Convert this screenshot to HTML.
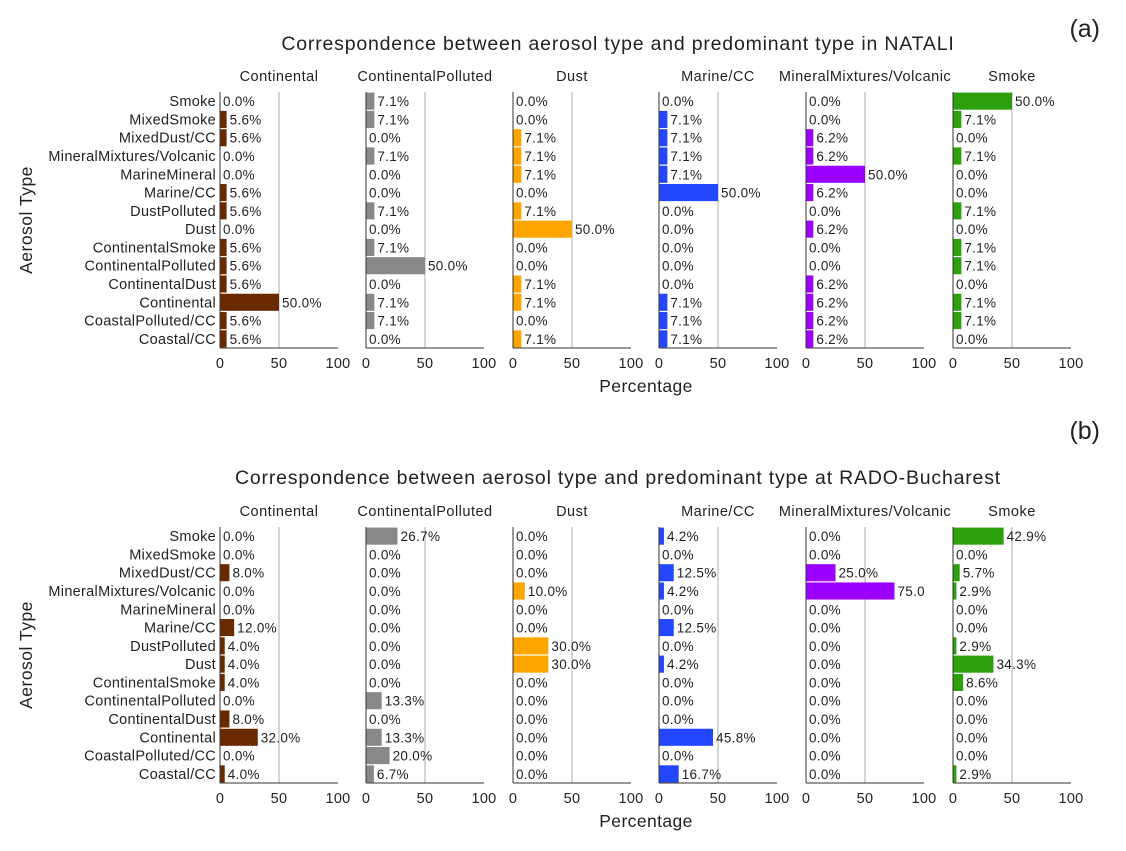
<!DOCTYPE html>
<html><head><meta charset="utf-8"><style>
body{margin:0;background:#fff;}
svg text{font-family:"Liberation Sans","DejaVu Sans",sans-serif;fill:#222;}
</style></head><body>
<svg id="chart" width="1126" height="846" xmlns="http://www.w3.org/2000/svg"></svg>
<script>
const categories=["Smoke","MixedSmoke","MixedDust/CC","MineralMixtures/Volcanic","MarineMineral","Marine/CC","DustPolluted","Dust","ContinentalSmoke","ContinentalPolluted","ContinentalDust","Continental","CoastalPolluted/CC","Coastal/CC"];
const panels=["Continental","ContinentalPolluted","Dust","Marine/CC","MineralMixtures/Volcanic","Smoke"];
const colors=["#6a2a00","#888888","#ffa500","#2346ff","#9b00ff","#2ca00c"];
const ticks=[0,50,100];
const nataliContinental=[0,5.6,5.6,0,0,5.6,5.6,0,5.6,5.6,5.6,50,5.6,5.6];
const nataliContPolluted=[7.1,7.1,0,7.1,0,0,7.1,0,7.1,50,0,7.1,7.1,0];
const nataliDust=[0,0,7.1,7.1,7.1,0,7.1,50,0,0,7.1,7.1,0,7.1];
const nataliMarine=[0,7.1,7.1,7.1,7.1,50,0,0,0,0,0,7.1,7.1,7.1];
const nataliMineral=[0,0,6.2,6.2,50,6.2,0,6.2,0,0,6.2,6.2,6.2,6.2];
const nataliSmoke=[50,7.1,0,7.1,0,0,7.1,0,7.1,7.1,0,7.1,7.1,0];
const radoContinental=[0,0,8,0,0,12,4,4,4,0,8,32,0,4];
const radoContPolluted=[26.7,0,0,0,0,0,0,0,0,13.3,0,13.3,20,6.7];
const radoDust=[0,0,0,10,0,0,30,30,0,0,0,0,0,0];
const radoMarine=[4.2,0,12.5,4.2,0,12.5,0,4.2,0,0,0,45.8,0,16.7];
const radoMineral=[0,0,25,75,0,0,0,0,0,0,0,0,0,0];
const radoSmoke=[42.9,0,5.7,2.9,0,0,2.9,34.3,8.6,0,0,0,0,2.9];
const NS="http://www.w3.org/2000/svg";
const svg=document.getElementById('chart');
function mk(tag,attrs,txt){const e=document.createElementNS(NS,tag);for(const k in attrs)e.setAttribute(k,attrs[k]);if(txt!==undefined)e.textContent=txt;svg.appendChild(e);return e;}
const x0s=[220,366,513,659,806,953];
const pxPer=118/100;
function xs(i,v){return x0s[i]+v*pxPer;}
function drawFigure(opts){
  const top=opts.top, bh=256/14, bottom=top+256;
  function ys(j){return top+j*bh;}
  let t=mk('text',{x:618,y:opts.titleY,'font-size':19.5,'letter-spacing':0.8,'text-anchor':'middle'},opts.title);
  
  t=mk('text',{x:1100,y:opts.tagY,'font-size':25,'text-anchor':'end'},opts.tag);
  
  t=mk('text',{x:0,y:0,'font-size':17.5,'letter-spacing':0.5,'text-anchor':'middle',transform:`translate(32,${top+128}) rotate(-90)`},'Aerosol Type');
  
  t=mk('text',{x:646,y:bottom+44,'font-size':17.5,'letter-spacing':0.4,'text-anchor':'middle'},'Percentage');
  
  categories.forEach((c,j)=>{
    const l=mk('text',{x:x0s[0]-4,y:ys(j)+bh/2+5,'font-size':14.5,'letter-spacing':0.3,'text-anchor':'end'},c);
    
  });
  opts.data.forEach((vals,i)=>{
    const h=mk('text',{x:x0s[i]+59,y:top-11,'font-size':14.5,'letter-spacing':0.5,'text-anchor':'middle'},panels[i]);
    
    const g=mk('line',{x1:xs(i,50),x2:xs(i,50),y1:top,y2:bottom,stroke:'#bbb','stroke-width':1.2});
    
    vals.forEach((v,j)=>{
      if(v>0){const r=mk('rect',{x:x0s[i],y:ys(j)+0.6,width:xs(i,v)-x0s[i],height:bh-1.2,fill:colors[i]});
      }
      let lab=(v===75)?'75.0':v.toFixed(1)+'%';
      const tl=mk('text',{x:xs(i,v)+3,y:ys(j)+bh/2+5,'font-size':13.5,'letter-spacing':0.3},lab);
      
    });
    const ya=mk('line',{x1:x0s[i],x2:x0s[i],y1:top,y2:bottom,stroke:'#333','stroke-width':1});
    
    const xa=mk('line',{x1:x0s[i],x2:xs(i,100),y1:bottom,y2:bottom,stroke:'#333','stroke-width':1});
    
    ticks.forEach(tk=>{
      const tt=mk('text',{x:xs(i,tk),y:bottom+20,'font-size':14.5,'letter-spacing':0.3,'text-anchor':'middle'},String(tk));
      
    });
  });
}
drawFigure({key:'natali',top:92,titleY:50,tag:'(a)',tagY:37,title:'Correspondence between aerosol type and predominant type in NATALI',
  data:[nataliContinental,nataliContPolluted,nataliDust,nataliMarine,nataliMineral,nataliSmoke]});
drawFigure({key:'rado',top:527,titleY:484,tag:'(b)',tagY:439,title:'Correspondence between aerosol type and predominant type at RADO-Bucharest',
  data:[radoContinental,radoContPolluted,radoDust,radoMarine,radoMineral,radoSmoke]});
</script>
</body></html>
